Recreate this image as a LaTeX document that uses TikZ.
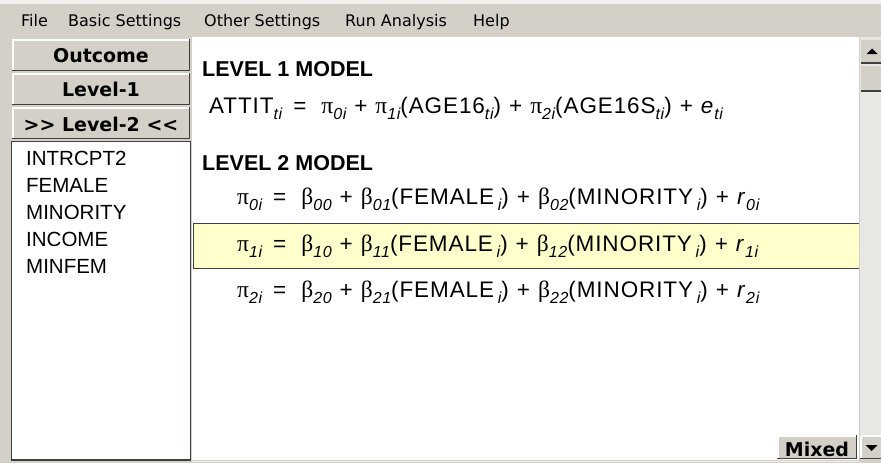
\documentclass[tikz,border=0pt]{standalone}
\usepackage{fontspec}
\setmainfont{Liberation Sans}
\newfontfamily\uifont{DejaVu Sans}
\newfontfamily\eqfont[LetterSpace=4]{Liberation Sans}
\newfontfamily\grkfont{Liberation Serif}
\definecolor{winbg}{HTML}{D4D0C8}
\definecolor{winlight}{HTML}{F2F0EC}
\definecolor{windark}{HTML}{404040}
\definecolor{rowyellow}{HTML}{FFFFCC}
\definecolor{track}{HTML}{E9E7E3}
\newcommand\lsub[1]{\raisebox{-6.5pt}{\fontsize{16}{16}\selectfont\itshape #1}}
\newcommand\gpi{{\grkfont\fontsize{23.5}{24}\selectfont π}}
\newcommand\gbeta{{\grkfont\fontsize{23.5}{24}\selectfont β}}
\newcommand\eqsign{\hspace{11pt}=\hspace{15pt}}
\newcommand\plussign{\hspace{8pt}+\hspace{8pt}}
\tikzset{
  menutext/.style={anchor=base west, inner sep=0pt, font=\uifont\fontsize{16}{18}\selectfont},
  btntext/.style={anchor=base, inner sep=0pt, font=\uifont\bfseries\fontsize{19}{21}\selectfont},
  headtext/.style={anchor=base west, inner sep=0pt, font=\bfseries\fontsize{21.5}{24}\selectfont},
  eqtext/.style={anchor=base west, inner sep=0pt, font=\eqfont\fontsize{22.5}{24}\selectfont},
  listtext/.style={anchor=base west, inner sep=0pt, font=\fontsize{20.5}{24}\selectfont},
  lightedge/.style={draw=white, line width=1.5pt},
  darkedge/.style={draw=windark, line width=1.5pt},
}
\begin{document}
\begin{tikzpicture}[x=1pt,y=-1pt]
\useasboundingbox (0,0) rectangle (881,463);
% window background
\fill[winbg] (0,0) rectangle (881,463);
\fill[winlight] (0,0) rectangle (881,4);
% menu bar
\node[menutext] (mfile) at (21,27) {File};
\node[menutext] (mbasic) at (68,27) {Basic Settings};
\node[menutext] (mother) at (204,27) {Other Settings};
\node[menutext] (mrun) at (345,27) {Run Analysis};
\node[menutext] (mhelp) at (473,27) {Help};
% main white panel
\fill[white] (192,37) rectangle (859,460);
\draw[winlight, line width=1.5pt] (192,461.5) -- (859,461.5);
% left buttons
\foreach \t/\b in {39/71, 73/105, 107/139}{
  \fill[winbg] (12,\t) rectangle (190,\b);
  \draw[lightedge] (12.75,\b) -- (12.75,\t+0.75) -- (190,\t+0.75);
  \draw[darkedge] (12,\b-0.75) -- (189.25,\b-0.75) -- (189.25,\t);
}
\node[btntext] (bout) at (101,62) {Outcome};
\node[btntext] (blev1) at (101,96) {Level-1};
\node[btntext] (blev2) at (101,131) {>> Level-2 <<};
% list box
\draw[windark, fill=white, line width=1.5pt] (11.5,141.5) rectangle (190.5,460);
\node[listtext] (v1) at (26,165) {INTRCPT2};
\node[listtext] (v2) at (26,192) {FEMALE};
\node[listtext] (v3) at (26,219) {MINORITY};
\node[listtext] (v4) at (26,246) {INCOME};
\node[listtext] (v5) at (26,273) {MINFEM};
% highlighted row
\fill[rowyellow] (193,223) rectangle (859,269);
\draw[windark, line width=1.5pt] (859,223.5) -- (193.5,223.5) -- (193.5,268.5) -- (859,268.5);
% headings and equations
\node[headtext] (h1) at (202,76) {LEVEL 1 MODEL};
\node[eqtext] (e1) at (209,113) {ATTIT\lsub{ti}\eqsign\gpi\lsub{0i}\plussign\gpi\lsub{1i}(AGE16\lsub{ti})\plussign\gpi\lsub{2i}(AGE16S\lsub{ti})\plussign\textit{e}\lsub{ti}};
\node[headtext] (h2) at (202,170) {LEVEL 2 MODEL};
\node[eqtext] (e2) at (237,204) {\gpi\lsub{0i}\eqsign\gbeta\lsub{00}\plussign\gbeta\lsub{01}(FEMALE\,\lsub{i})\plussign\gbeta\lsub{02}(MINORITY\,\lsub{i})\plussign\textit{r}\lsub{0i}};
\node[eqtext] (e3) at (237,251) {\gpi\lsub{1i}\eqsign\gbeta\lsub{10}\plussign\gbeta\lsub{11}(FEMALE\,\lsub{i})\plussign\gbeta\lsub{12}(MINORITY\,\lsub{i})\plussign\textit{r}\lsub{1i}};
\node[eqtext] (e4) at (237,297) {\gpi\lsub{2i}\eqsign\gbeta\lsub{20}\plussign\gbeta\lsub{21}(FEMALE\,\lsub{i})\plussign\gbeta\lsub{22}(MINORITY\,\lsub{i})\plussign\textit{r}\lsub{2i}};
% scrollbar
\fill[track] (860,37) rectangle (881,435);
\fill[winbg] (861,40) rectangle (881,62);
\draw[windark, line width=2pt] (861,63) -- (881,63);
\fill[black] (866.5,54) -- (877.5,54) -- (872,48.5) -- cycle;
\fill[winbg] (861,66) rectangle (881,90);
\draw[windark, line width=2pt] (861,91) -- (881,91);
% bottom controls
\fill[winbg] (777,435) rectangle (856,459);
\draw[lightedge] (777.75,459) -- (777.75,435.75) -- (856,435.75);
\draw[darkedge] (777,458.25) -- (856.25,458.25) -- (856.25,435);
\node[btntext] (mixed) at (817,456) {Mixed};
\fill[winbg] (860,435) rectangle (881,459);
\draw[lightedge] (860.75,459) -- (860.75,435.75) -- (881,435.75);
\draw[darkedge] (860,458.25) -- (881,458.25);
\fill[black] (865.5,445) -- (877.5,445) -- (871.5,451) -- cycle;
\end{tikzpicture}
\end{document}
